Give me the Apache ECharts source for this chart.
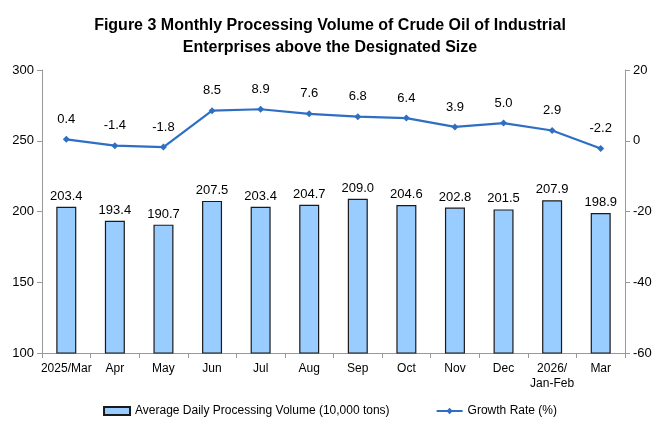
<!DOCTYPE html>
<html><head><meta charset="utf-8">
<script src="https://cdn.jsdelivr.net/npm/echarts@6/dist/echarts.min.js"></script>
<style>html,body{margin:0;padding:0;background:#fff}#c{width:660px;height:440px}</style>
</head><body><div id="c"></div>
<script>
var categories = ['2025/Mar','Apr','May','Jun','Jul','Aug','Sep','Oct','Nov','Dec','2026/\nJan-Feb','Mar'];
var volume = [203.4,193.4,190.7,207.5,203.4,204.7,209.0,204.6,202.8,201.5,207.9,198.9];
var growth = [0.4,-1.4,-1.8,8.5,8.9,7.6,6.8,6.4,3.9,5.0,2.9,-2.2];
var leftTicks = [100,150,200,250,300];
var rightTicks = [-60,-40,-20,0,20];
var font = '"Liberation Sans", Arial, sans-serif';
var chart = echarts.init(document.getElementById('c'));
chart.setOption({
  animation:false,
  textStyle:{fontFamily:font},
  title:{text:'Figure 3 Monthly Processing Volume of Crude Oil of Industrial\nEnterprises above the Designated Size',left:'center',top:10,
    textStyle:{fontFamily:font,fontSize:16,fontWeight:'bold',color:'#000',lineHeight:22}},
  legend:{bottom:18,left:'center',itemGap:46,itemWidth:26,itemHeight:8,textStyle:{fontFamily:font,fontSize:12,color:'#000'},
    data:[{name:'Average Daily Processing Volume (10,000 tons)',icon:'rect'},{name:'Growth Rate (%)'}]},
  grid:{left:42,right:35,top:70,bottom:87},
  xAxis:{type:'category',data:categories,
    axisLine:{onZero:false,lineStyle:{color:'#999'}},axisTick:{show:true,alignWithLabel:false,lineStyle:{color:'#999'}},
    axisLabel:{color:'#000',fontSize:12,interval:0,fontFamily:font,lineHeight:15}},
  yAxis:[{type:'value',min:100,max:300,interval:50,
      axisLine:{show:true,lineStyle:{color:'#999'}},axisTick:{show:true,lineStyle:{color:'#999'}},splitLine:{show:false},
      axisLabel:{color:'#000',fontSize:13,fontFamily:font,formatter:function(v){return leftTicks.indexOf(v)>=0?v:'';}}},
    {type:'value',min:-60,max:20,interval:20,
      axisLine:{show:true,lineStyle:{color:'#999'}},axisTick:{show:true,lineStyle:{color:'#999'}},splitLine:{show:false},
      axisLabel:{color:'#000',fontSize:13,fontFamily:font,formatter:function(v){return rightTicks.indexOf(v)>=0?v:'';}}}],
  series:[
    {name:'Average Daily Processing Volume (10,000 tons)',type:'bar',data:volume,barWidth:20,yAxisIndex:0,
      itemStyle:{color:'#99CCFF',borderColor:'#1a1a1a',borderWidth:1.2},
      label:{show:true,position:'top',color:'#000',fontSize:13,fontFamily:font,distance:4,formatter:function(p){return p.value.toFixed(1);}}},
    {name:'Growth Rate (%)',type:'line',data:growth,yAxisIndex:1,symbol:'diamond',symbolSize:7,
      lineStyle:{color:'#2E6FC4',width:2.2},itemStyle:{color:'#2E6FC4'},
      label:{show:true,position:'top',color:'#000',fontSize:13,fontFamily:font,distance:10,formatter:function(p){return p.value.toFixed(1);}}}
  ]
});
</script></body></html>
